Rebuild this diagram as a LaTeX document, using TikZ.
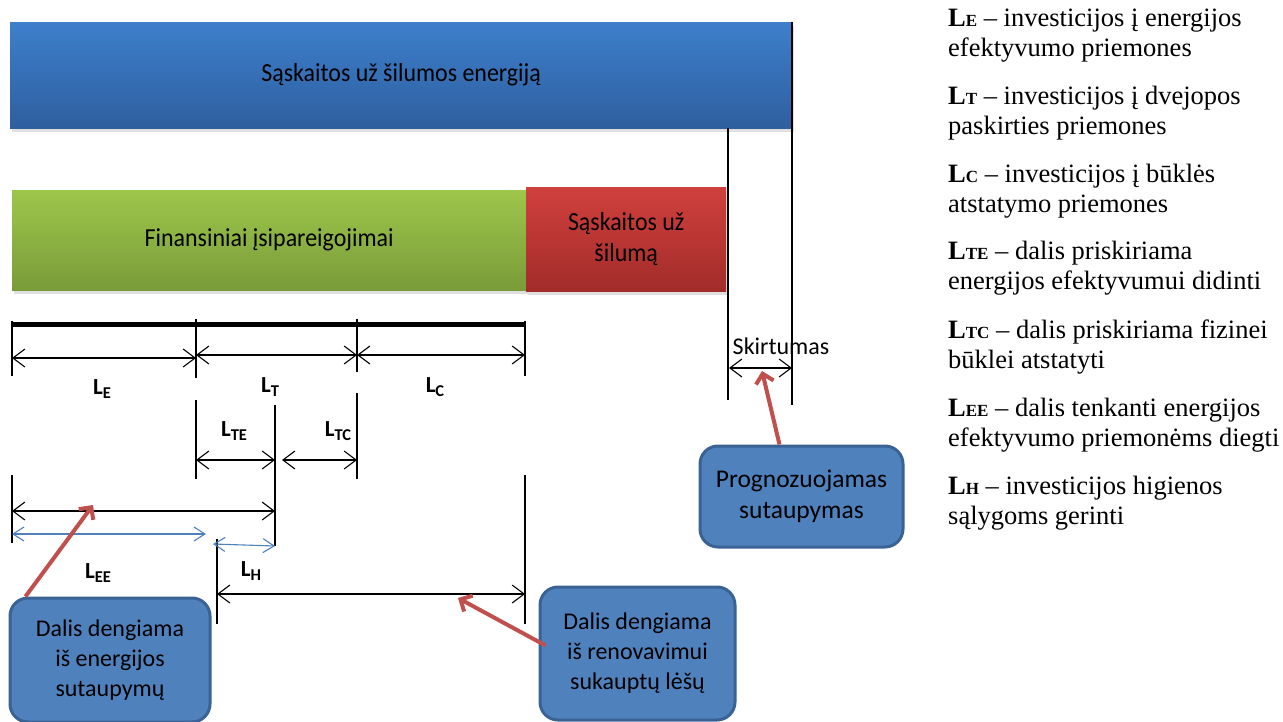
\documentclass[tikz,border=0pt]{standalone}
\usepackage{fontspec}
\setmainfont{Carlito}
\newfontfamily\barfont[FakeStretch=0.92]{Carlito}
\newfontfamily\legendfont{Liberation Serif}
\usetikzlibrary{arrows.meta,shadows}

\definecolor{blueTop}{HTML}{3D7FCC}
\definecolor{blueBot}{HTML}{2E5F9F}
\definecolor{greenTop}{HTML}{9DC64B}
\definecolor{greenBot}{HTML}{7A9B39}
\definecolor{redTop}{HTML}{D0403D}
\definecolor{redBot}{HTML}{A22C2A}
\definecolor{calloutFill}{HTML}{4F81BD}
\definecolor{calloutEdge}{HTML}{3A6294}
\definecolor{pointerRed}{HTML}{C0504D}
\definecolor{thinBlue}{HTML}{4F81BD}

% bold "L" with a smaller bold letter set on the baseline (legend style)
\newcommand{\legL}[1]{\textbf{L}{\fontsize{17}{17}\selectfont\textbf{#1}}}
% bold "L" with a lowered smaller index (dimension labels)
\newcommand{\dimL}[1]{\textbf{L}\raisebox{-4pt}{\fontsize{16.5}{16.5}\selectfont\textbf{#1}}}

\tikzset{
  barbox/.style={anchor=north west, inner sep=0pt, align=center,
    font=\barfont\fontsize{26}{31}\selectfont,
    drop shadow={opacity=0.25, shadow xshift=2pt, shadow yshift=-4pt}},
  tickline/.style={draw=black, line width=1.1pt},
  dimarrow/.style={draw=black, line width=1.1pt,
    {Straight Barb[length=12pt,width=18pt]}-{Straight Barb[length=12pt,width=18pt]}},
  bluearrow/.style={draw=thinBlue, line width=1.1pt,
    {Straight Barb[length=11pt,width=14pt]}-{Straight Barb[length=11pt,width=14pt]}},
  pointer/.style={draw=pointerRed, line width=4pt,
    -{Straight Barb[length=9pt,width=18pt]}},
  callout/.style={draw=calloutEdge, line width=3pt, fill=calloutFill,
    rounded corners=18pt, inner sep=0pt, align=center,
    font=\fontsize{24}{30}\selectfont},
  dimlabel/.style={inner sep=0pt, font=\fontsize{23}{23}\selectfont},
  legendline/.style={anchor=base west, inner sep=0pt,
    font=\legendfont\fontsize{26.5}{30}\selectfont},
}

\begin{document}
\begin{tikzpicture}[x=1pt,y=-1pt]
\useasboundingbox (0,0) rectangle (1283,722);
\fill[white] (0,0) rectangle (1283,722);

% ---------- bars ----------
\node[barbox, top color=blueTop, bottom color=blueBot,
      minimum width=782pt, minimum height=106pt] (energy) at (10,22)
      {Sąskaitos už šilumos energiją};
\node[barbox, top color=greenTop, bottom color=greenBot,
      minimum width=514pt, minimum height=100pt] (finance) at (12,190)
      {Finansiniai įsipareigojimai};
\node[barbox, top color=redTop, bottom color=redBot,
      minimum width=200pt, minimum height=104pt] (heat) at (526,187)
      {Sąskaitos už\\šilumą};

% ---------- difference between the two totals ----------
\coordinate (dA1) at (728,128);  \coordinate (dA2) at (728,400);
\coordinate (dB1) at (792,22);   \coordinate (dB2) at (792,405);
\draw[tickline] (dA1) -- (dA2);
\draw[tickline] (dB1) -- (dB2);
\coordinate (sL) at (729,368); \coordinate (sR) at (792,368);
\draw[dimarrow] (sL) -- (sR);
\node[inner sep=0pt, font=\fontsize{24}{24}\selectfont] (diff) at (781,346) {Skirtumas};

% ---------- top scale ----------
\coordinate (t0) at (12,324); \coordinate (t3) at (525,324);
\draw[line width=5pt] (t0) -- (t3);
\coordinate (a0) at (12,321);  \coordinate (b0) at (12,376);
\coordinate (a1) at (196,319); \coordinate (b1) at (196,378);
\coordinate (a2) at (357,319); \coordinate (b2) at (357,372);
\coordinate (a3) at (525,321); \coordinate (b3) at (525,376);
\foreach \i in {0,1,2,3} \draw[tickline] (a\i) -- (b\i);

\coordinate (e0) at (12,358);  \coordinate (e1) at (196,358);
\coordinate (f0) at (196,355); \coordinate (f1) at (357,355);
\coordinate (g0) at (357,355); \coordinate (g1) at (525,355);
\draw[dimarrow] (e0) -- (e1);
\draw[dimarrow] (f0) -- (f1);
\draw[dimarrow] (g0) -- (g1);
\node[dimlabel] (lE) at (102,389) {\dimL{E}};
\node[dimlabel] (lT) at (270,387) {\dimL{T}};
\node[dimlabel] (lC) at (435,387) {\dimL{C}};

% ---------- split of L_T ----------
\coordinate (m0a) at (196,400); \coordinate (m0b) at (196,479);
\coordinate (m1a) at (275,405); \coordinate (m1b) at (275,546);
\coordinate (m2a) at (357,393); \coordinate (m2b) at (357,479);
\draw[tickline] (m0a) -- (m0b);
\draw[tickline] (m1a) -- (m1b);
\draw[tickline] (m2a) -- (m2b);
\coordinate (te0) at (196,460); \coordinate (te1) at (275,460);
\coordinate (tc0) at (282,460); \coordinate (tc1) at (357,460);
\draw[dimarrow] (te0) -- (te1);
\draw[dimarrow] (tc0) -- (tc1);
\node[dimlabel] (lTE) at (234,431) {\dimL{TE}};
\node[dimlabel] (lTC) at (338,431) {\dimL{TC}};

% ---------- bottom scale ----------
\coordinate (n0a) at (12,475);  \coordinate (n0b) at (12,543);
\coordinate (n1a) at (525,475); \coordinate (n1b) at (525,624);
\coordinate (n2a) at (217,539); \coordinate (n2b) at (217,624);
\draw[tickline] (n0a) -- (n0b);
\draw[tickline] (n1a) -- (n1b);
\draw[tickline] (n2a) -- (n2b);
\coordinate (ee0) at (12,511);  \coordinate (ee1) at (275,511);
\draw[dimarrow] (ee0) -- (ee1);
\coordinate (be0) at (12,534);  \coordinate (be1) at (206,534);
\coordinate (bh0) at (213,544); \coordinate (bh1) at (275,546);
\draw[bluearrow] (be0) -- (be1);
\draw[bluearrow] (bh0) -- (bh1);
\coordinate (h0) at (217,594);  \coordinate (h1) at (525,594);
\draw[dimarrow] (h0) -- (h1);
\node[dimlabel] (lEE) at (98,573) {\dimL{EE}};
\node[dimlabel] (lH) at (251,571) {\dimL{H}};

% ---------- call-outs ----------
\node[callout, minimum width=200pt, minimum height=124pt] (boxE) at (110,660)
  {Dalis dengiama\\iš energijos\\sutaupymų};
\node[callout, minimum width=195pt, minimum height=133pt] (boxR) at (637.5,653.5)
  {Dalis dengiama\\iš renovavimui\\sukauptų lėšų};
\node[callout, minimum width=203pt, minimum height=101pt,
      font=\fontsize{25.5}{31}\selectfont] (boxS) at (801.5,496.5)
  {Prognozuojamas\\sutaupymas};

\coordinate (tipE) at (93,505);
\coordinate (tipR) at (458,598);
\coordinate (tipS) at (762,371);
\draw[pointer] ([xshift=17pt]boxE.north west) -- (tipE);
\draw[pointer] ([shift={(7pt,8pt)}]boxR.west) -- (tipR);
\draw[pointer] ([xshift=-22pt]boxS.north) -- (tipS);

% ---------- legend ----------
\node[legendline] (k1a) at (948,27)  {\legL{E} – investicijos į energijos};
\node[legendline] (k1b) at (948,57)  {efektyvumo priemones};
\node[legendline] (k2a) at (948,105) {\legL{T} – investicijos į dvejopos};
\node[legendline] (k2b) at (948,135) {paskirties priemones};
\node[legendline] (k3a) at (948,183) {\legL{C} – investicijos į būklės};
\node[legendline] (k3b) at (948,213) {atstatymo priemones};
\node[legendline] (k4a) at (948,260) {\legL{TE} – dalis priskiriama};
\node[legendline] (k4b) at (948,290) {energijos efektyvumui didinti};
\node[legendline] (k5a) at (948,338) {\legL{TC} – dalis priskiriama fizinei};
\node[legendline] (k5b) at (948,368) {būklei atstatyti};
\node[legendline] (k6a) at (948,416) {\legL{EE} – dalis tenkanti energijos};
\node[legendline] (k6b) at (948,446) {efektyvumo priemonėms diegti};
\node[legendline] (k7a) at (948,494) {\legL{H} – investicijos higienos};
\node[legendline] (k7b) at (948,524) {sąlygoms gerinti};
\end{tikzpicture}
\end{document}
